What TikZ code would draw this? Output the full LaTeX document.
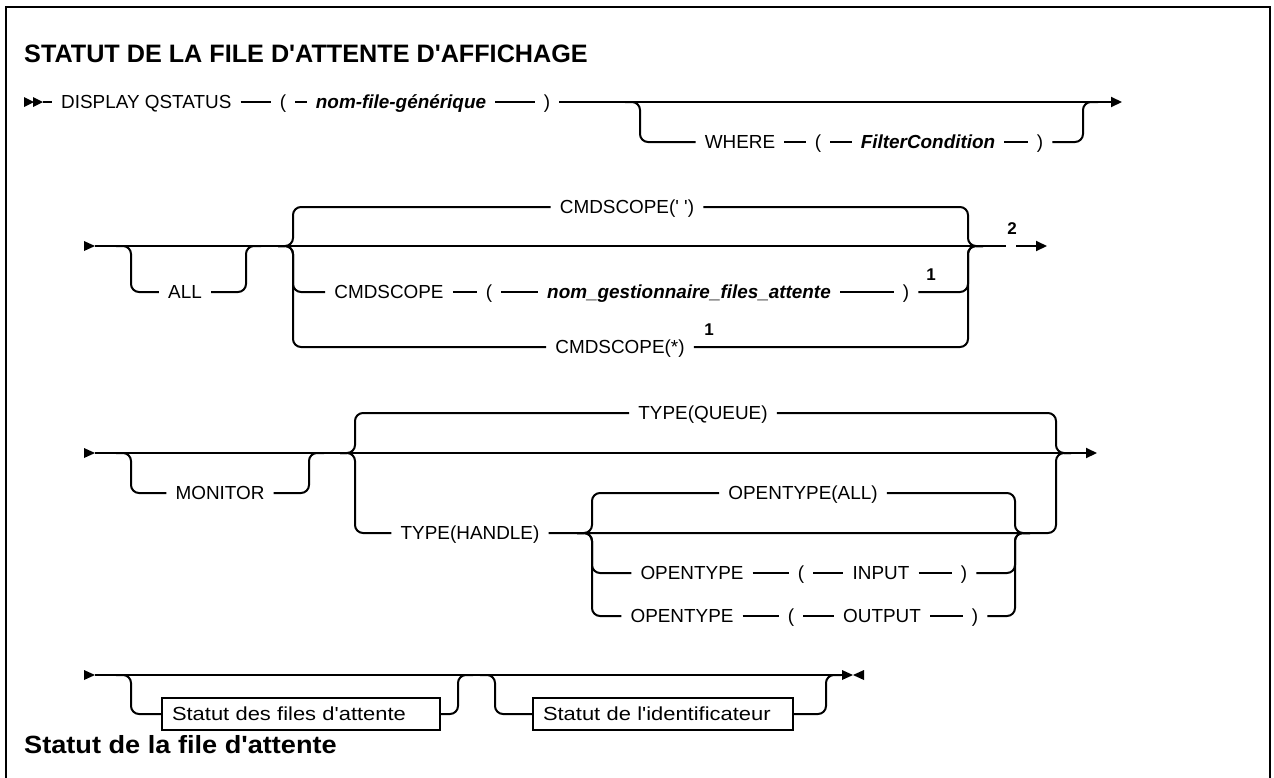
\documentclass[tikz,border=0pt]{standalone}
\usepackage{fontspec}
\setmainfont{Liberation Sans}
\newfontfamily\boxfont{Liberation Sans}[FakeStretch=1.16]
\newfontfamily\headfont{Liberation Sans}[FakeStretch=1.09]
\usetikzlibrary{arrows.meta}
\tikzset{
  rail/.style={line width=2pt, rounded corners=8pt},
  tok/.style={fill=white, inner xsep=9pt, inner ysep=3pt, text height=13.5pt, text depth=0pt, font=\fontsize{18.9}{22}\selectfont},
  var/.style={tok, font=\fontsize{18.9}{22}\selectfont\bfseries\itshape},
  fnote/.style={inner sep=0pt, font=\fontsize{17}{19}\selectfont\bfseries},
  refbox/.style={draw, line width=1.6pt, fill=white, inner xsep=10pt, inner ysep=0pt, minimum height=32pt, text height=13.5pt, text depth=0pt, align=left, font=\boxfont\fontsize{18.9}{22}\selectfont},
  endtip/.style={-{Triangle[length=11pt,width=10pt]}},
  heading/.style={anchor=base west, inner sep=0pt},
}
\begin{document}
\begin{tikzpicture}[x=1pt,y=-1pt]
\useasboundingbox (0,0) rectangle (1274,777);
\draw[line width=2.5pt] (6,800) -- (6,7) -- (1270,7) -- (1270,800);

\node[heading, font=\fontsize{25.2}{30}\selectfont\bfseries] (title) at (24,62) {STATUT DE LA FILE D\textquotesingle ATTENTE D\textquotesingle AFFICHAGE};

% ---------- line 1
\fill (24,97) -- (34,102) -- (24,107) -- cycle;
\fill (33,97) -- (43,102) -- (33,107) -- cycle;
\coordinate (s1) at (43,102);
\node[tok, anchor=west] (disp) at (52,102) {DISPLAY QSTATUS};
\node[tok] (lp1) at (283,102) {(};
\node[var] (nom) at (401,102) {nom-file-générique};
\node[tok] (rp1) at (547,102) {)};
\coordinate (e1) at (1122,102);
\draw[rail] (s1) -- (disp) -- (lp1) -- (nom) -- (rp1);
\draw[rail,endtip] (rp1) -- (e1);

\coordinate (wa) at (625,102);
\node[tok] (wh) at (740,142) {WHERE};
\node[tok] (lp2) at (818,142) {(};
\node[var] (fc) at (928,142) {FilterCondition};
\node[tok] (rp2) at (1040,142) {)};
\coordinate (wb) at (1083,102);
\draw[rail] (wa) -- ++(15,0) |- (wh);
\draw[rail] (wh) -- (lp2) -- (fc) -- (rp2);
\draw[rail] (rp2) -| (wb) -- ++(15,0);

% ---------- line 2
\fill (84,241) -- (95,246) -- (84,251) -- cycle;
\coordinate (s2) at (95,246);
\coordinate (f2a) at (1006,246);
\coordinate (f2b) at (1016,246);
\coordinate (e2) at (1047,246);
\draw[rail] (s2) -- (f2a);
\draw[rail,endtip] (f2b) -- (e2);
\node[fnote] (fn2) at (1012,229) {2};

\node[tok] (all) at (185,292) {ALL};
\coordinate (a2) at (116,246);
\coordinate (a2b) at (246,246);
\draw[rail] (a2) -- ++(15,0) |- (all);
\draw[rail] (all) -| (a2b) -- ++(15,0);

\coordinate (b2) at (278,246);
\coordinate (c2r) at (968,246);
\node[tok] (cq) at (627,207) {CMDSCOPE(\textquotesingle\ \textquotesingle)};
\node[tok] (cmd) at (389,292) {CMDSCOPE};
\node[tok] (lp3) at (489,292) {(};
\node[var] (qm) at (689,292) {nom\_gestionnaire\_files\_attente};
\node[tok] (rp3) at (906,292) {)};
\node[fnote] (fn1a) at (931,275) {1};
\node[tok] (cst) at (620,347) {CMDSCOPE(*)};
\node[fnote] (fn1b) at (709,330) {1};
\draw[rail] (b2) -- ++(15,0) |- (cq);
\draw[rail] (b2) -- ++(15,0) |- (cmd);
\draw[rail] (b2) -- ++(15,0) |- (cst);
\draw[rail] (cmd) -- (lp3) -- (qm) -- (rp3);
\draw[rail] (cq) -| (c2r) -- ++(15,0);
\draw[rail] (rp3) -| (c2r) -- ++(15,0);
\draw[rail] (cst) -| (c2r) -- ++(15,0);

% ---------- line 3
\fill (84,448) -- (95,453) -- (84,458) -- cycle;
\coordinate (s3) at (95,453);
\coordinate (e3) at (1097,453);
\draw[rail,endtip] (s3) -- (e3);

\node[tok] (mon) at (220,493) {MONITOR};
\coordinate (m3) at (116,453);
\coordinate (m3b) at (309,453);
\draw[rail] (m3) -- ++(15,0) |- (mon);
\draw[rail] (mon) -| (m3b) -- ++(15,0);

\coordinate (b3) at (340,453);
\coordinate (c3r) at (1056,453);
\node[tok] (tq) at (703,413) {TYPE(QUEUE)};
\node[tok] (th) at (470,533) {TYPE(HANDLE)};
\draw[rail] (b3) -- ++(15,0) |- (tq);
\draw[rail] (b3) -- ++(15,0) |- (th);
\draw[rail] (tq) -| (c3r) -- ++(15,0);

\coordinate (sb) at (577,533);
\coordinate (sbr) at (1015,533);
\node[tok] (oall) at (803,493) {OPENTYPE(ALL)};
\node[tok] (ot1) at (692,573) {OPENTYPE};
\node[tok] (lp5) at (801,573) {(};
\node[tok] (inp) at (881,573) {INPUT};
\node[tok] (rp5) at (964,573) {)};
\node[tok] (ot2) at (682,616) {OPENTYPE};
\node[tok] (lp6) at (791,616) {(};
\node[tok] (outp) at (882,616) {OUTPUT};
\node[tok] (rp6) at (975,616) {)};
\draw[rail] (th) -- (sbr) -| (c3r) -- ++(15,0);
\draw[rail] (sb) -- ++(15,0) |- (oall);
\draw[rail] (sb) -- ++(15,0) |- (ot1);
\draw[rail] (sb) -- ++(15,0) |- (ot2);
\draw[rail] (ot1) -- (lp5) -- (inp) -- (rp5);
\draw[rail] (ot2) -- (lp6) -- (outp) -- (rp6);
\draw[rail] (oall) -| (sbr) -- ++(15,0);
\draw[rail] (rp5) -| (sbr) -- ++(15,0);
\draw[rail] (rp6) -| (sbr) -- ++(15,0);

% ---------- line 4
\fill (84,670) -- (95,675) -- (84,680) -- cycle;
\coordinate (s4) at (95,675);
\coordinate (e4) at (842,675);
\draw[rail] (s4) -- (e4);
\node[refbox, text width=258pt] (q1) at (301,714) {Statut des files d'attente};
\node[refbox, text width=240pt] (q2) at (663,714) {Statut de l'identificateur};
\coordinate (p4a) at (116,675);
\coordinate (p4b) at (458,675);
\coordinate (p4c) at (480,675);
\coordinate (p4d) at (826,675);
\draw[rail] (p4a) -- ++(15,0) |- (q1);
\draw[rail] (q1) -| (p4b) -- ++(15,0);
\draw[rail] (p4c) -- ++(15,0) |- (q2);
\draw[rail] (q2) -| (p4d) -- ++(15,0);
\fill (842,670) -- (853,675) -- (842,680) -- cycle;
\fill (864,670) -- (853,675) -- (864,680) -- cycle;

\node[heading, font=\headfont\bfseries\fontsize{24.9}{30}\selectfont] (head) at (24,753) {Statut de la file d'attente};
\end{tikzpicture}
\end{document}
